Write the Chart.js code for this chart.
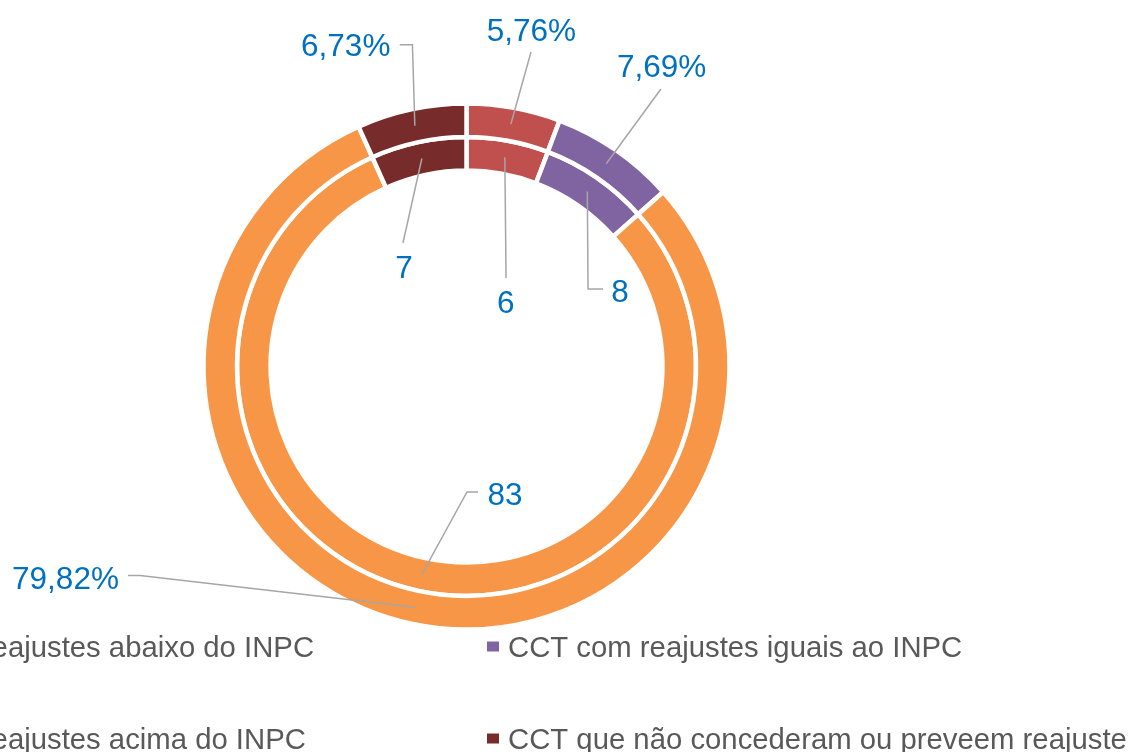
<!DOCTYPE html>
<html>
<head>
<meta charset="utf-8">
<script src="https://cdn.jsdelivr.net/npm/chart.js@4/dist/chart.umd.min.js"></script>
<style>
  html, body { margin: 0; padding: 0; background: #ffffff; overflow: hidden; }
  #wrap { position: relative; width: 1129px; height: 752px; }
  canvas { display: block; }
</style>
</head>
<body>
<div id="wrap"><canvas id="c" width="1129" height="752"></canvas></div>
<script>
// ---- DATA ----
const categories = [
  "CCT com reajustes abaixo do INPC",
  "CCT com reajustes iguais ao INPC",
  "CCT com reajustes acima do INPC",
  "CCT que não concederam ou preveem reajuste"
];
const outerPercent = [5.76, 7.69, 79.82, 6.73];   // outer ring (%)
const innerCount = [6, 8, 83, 7];                 // inner ring (number of CCT)

// ---- STYLE ----
const sliceColors = ["#C0504D", "#8064A2", "#F79646", "#772B2A"];
const labelColor = "#0070C0";
const leaderColor = "#A6A6A6";
const legendColor = "#595959";
const fontFamily = "'Liberation Sans', Arial, sans-serif";

// label placement relative to each arc's centroid: text anchor (center/baseline) and leader polyline
const labelLayout = [
  [ // outer ring
    { text: [20.5, -83.3], leader: [[20.2, -72.3]] },
    { text: [55.4, -86.8], leader: [[54.7, -74.8]] },
    { text: [-349.4, -18.7], leader: [[-274.9, -31.7], [-286.9, -31.7]] },
    { text: [-69.1, -69.9], leader: [[-2.4, -80.9], [-15.1, -80.9]] }
  ],
  [ // inner ring
    { text: [0.9, 155.5], leader: [[1.2, 120.8]] },
    { text: [32.7, 110.3], leader: [[0.7, 97.6], [15.7, 97.6]] },
    { text: [83.1, -69.5], leader: [[45.1, -82.5], [56.1, -82.5]] },
    { text: [-17.9, 119.8], leader: [[-18.9, 84.5]] }
  ]
];
const labelFormat = [
  v => v.toFixed(2).replace(".", ",") + "%",
  v => String(v)
];

const legendLayout = { colX: [-171, 487], rowBaseline: [657, 749], font: 29.3, box: [12, 10], textGap: 21 };

const labelsPlugin = {
  id: "leaderLabels",
  afterDatasetsDraw(chart) {
    const ctx = chart.ctx;
    ctx.save();
    chart.data.datasets.forEach((ds, di) => {
      const meta = chart.getDatasetMeta(di);
      meta.data.forEach((arc, i) => {
        const p = arc.getCenterPoint();
        const lay = labelLayout[di][i];
        ctx.beginPath();
        ctx.moveTo(p.x, p.y);
        lay.leader.forEach(pt => ctx.lineTo(p.x + pt[0], p.y + pt[1]));
        ctx.strokeStyle = leaderColor;
        ctx.lineWidth = 1.5;
        ctx.stroke();
        ctx.font = "31.5px " + fontFamily;
        ctx.fillStyle = labelColor;
        ctx.textAlign = "center";
        ctx.textBaseline = "alphabetic";
        ctx.fillText(labelFormat[di](ds.data[i]), p.x + lay.text[0], p.y + lay.text[1]);
      });
    });
    ctx.restore();
  },
  afterDraw(chart) {
    const ctx = chart.ctx;
    const L = legendLayout;
    ctx.save();
    ctx.font = L.font + "px " + fontFamily;
    ctx.textAlign = "left";
    ctx.textBaseline = "alphabetic";
    chart.data.labels.forEach((lab, i) => {
      const col = i % 2, row = Math.floor(i / 2);
      const x = L.colX[col];
      const base = L.rowBaseline[row];
      const capMid = base - 0.358 * L.font;
      ctx.fillStyle = sliceColors[i];
      ctx.fillRect(x, capMid - L.box[1] / 2, L.box[0], L.box[1]);
      ctx.fillStyle = legendColor;
      ctx.fillText(lab, x + L.textGap, base);
    });
    ctx.restore();
  }
};

new Chart(document.getElementById("c"), {
  type: "doughnut",
  data: {
    labels: categories,
    datasets: [
      { data: outerPercent, backgroundColor: sliceColors, borderColor: "#ffffff", borderWidth: 4.5 },
      { data: innerCount, backgroundColor: sliceColors, borderColor: "#ffffff", borderWidth: 4.5 }
    ]
  },
  options: {
    responsive: false,
    animation: false,
    devicePixelRatio: 1,
    radius: 263,
    cutout: "74.5%",
    layout: { padding: { left: 0, top: 0, right: 196, bottom: 19 } },
    plugins: {
      legend: { display: false },
      tooltip: { enabled: false },
      title: { display: false }
    },
    events: []
  },
  plugins: [labelsPlugin]
});
</script>
</body>
</html>
